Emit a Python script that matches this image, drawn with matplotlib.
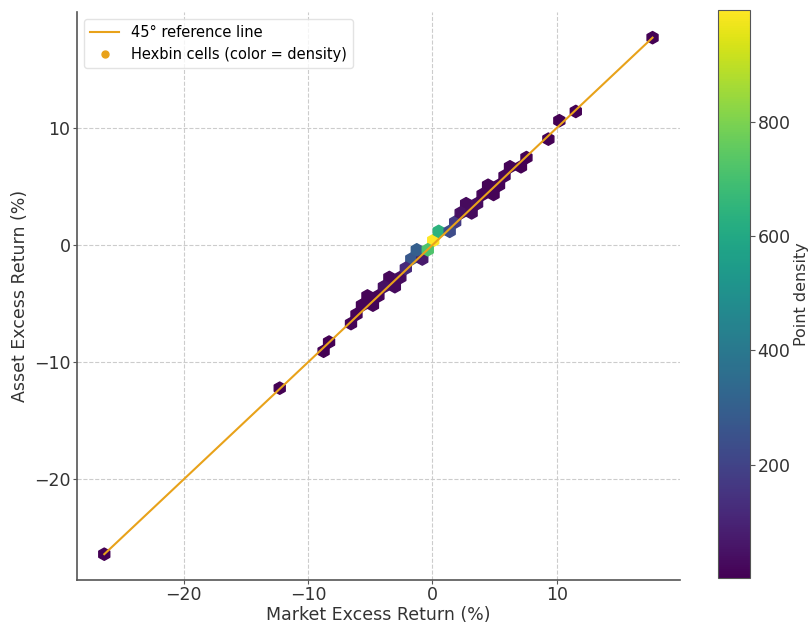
import matplotlib
matplotlib.use("Agg")
import matplotlib.pyplot as plt
import numpy as np
from matplotlib.lines import Line2D

# hex cell centres (market, asset) and the point count in each
market = [-26.4, -12.5, -9.2, -8.7, -6.8, -6.2, -6.5, -5.9, -5.4, -5.0, -4.7, -4.4,
          -4.0, -3.8, -3.4, -3.2, -2.8, -2.4, -2.2, -1.8, -1.6, -1.4, -1.0, -0.6,
          -0.4, 0.0, 0.5, 0.9, 1.3, 1.8, 2.0, 2.4, 2.8, 3.0, 3.4, 3.8, 4.2, 4.6,
          5.0, 5.4, 5.8, 6.0, 6.2, 6.6, 7.0, 7.3, 8.9, 10.4, 11.4, 17.7]
asset = [-26.4, -12.0, -9.2, -8.5, -6.5, -6.5, -6.2, -5.9, -4.9, -4.6, -4.8, -4.4,
         -3.8, -3.2, -3.6, -3.0, -2.7, -2.1, -2.4, -2.1, -1.5, -1.0, -0.4, -1.1,
         -0.8, 0.0, 0.8, 1.3, 1.0, 1.6, 2.3, 2.4, 2.8, 3.2, 3.8, 3.6, 4.2, 4.9,
         4.6, 5.1, 5.6, 6.1, 6.6, 6.4, 6.9, 7.2, 8.8, 10.5, 11.0, 17.7]
counts = [1, 1, 2, 3, 5, 6, 4, 8, 10, 9, 12, 11,
          18, 22, 25, 20, 30, 40, 35, 45, 90, 180, 300, 70,
          720, 995, 580, 60, 230, 120, 50, 40, 30, 25, 20, 15, 14, 12,
          10, 9, 7, 6, 5, 5, 4, 4, 2, 2, 1, 1]

ref_lo, ref_hi = -26.4, 17.7
ORANGE = "#E8A21A"

fig = plt.figure(figsize=(8.09, 6.23), dpi=100)
ax = fig.add_axes([0.095, 0.069, 0.7455, 0.912])
cax = fig.add_axes([0.8875, 0.072, 0.0396, 0.912])

hb = ax.hexbin(market, asset, C=counts, reduce_C_function=np.sum,
               gridsize=50, cmap="viridis", vmin=1, vmax=996, zorder=2)
ax.plot([ref_lo, ref_hi], [ref_lo, ref_hi], color=ORANGE, linewidth=1.5, zorder=3)

ax.set_xlabel("Market Excess Return (%)", fontsize=12.5, color="#333333", labelpad=1)
ax.set_ylabel("Asset Excess Return (%)", fontsize=12.5, color="#333333", labelpad=4)
ax.tick_params(labelsize=12.5, colors="#555555", labelcolor="#333333", length=3, pad=1.5)
ax.set_xticks([-20, -10, 0, 10])
ax.set_yticks([-20, -10, 0, 10])
ax.grid(True, linestyle="--", color="#cccccc", linewidth=0.8, zorder=0)
ax.set_axisbelow(True)
for side in ["top", "right"]:
    ax.spines[side].set_visible(False)
for side in ["left", "bottom"]:
    ax.spines[side].set_color("#555555")
    ax.spines[side].set_linewidth(1.2)

handles = [
    Line2D([0], [0], color=ORANGE, linewidth=1.5, label="45° reference line"),
    Line2D([0], [0], color=ORANGE, marker="o", linestyle="none", markersize=5,
           label="Hexbin cells (color = density)"),
]
leg = ax.legend(handles=handles, loc="upper left", fontsize=10.5, frameon=True)
leg.get_frame().set_edgecolor("#dddddd")

cb = fig.colorbar(hb, cax=cax)
cb.set_ticks([200, 400, 600, 800])
cb.set_label("Point density", fontsize=11.5, color="#333333", labelpad=2)
cb.ax.tick_params(labelsize=12.5, labelcolor="#333333", colors="#555555", length=3.5, pad=2)
cb.outline.set_edgecolor("#555555")

fig.savefig("out.png", dpi=100)
